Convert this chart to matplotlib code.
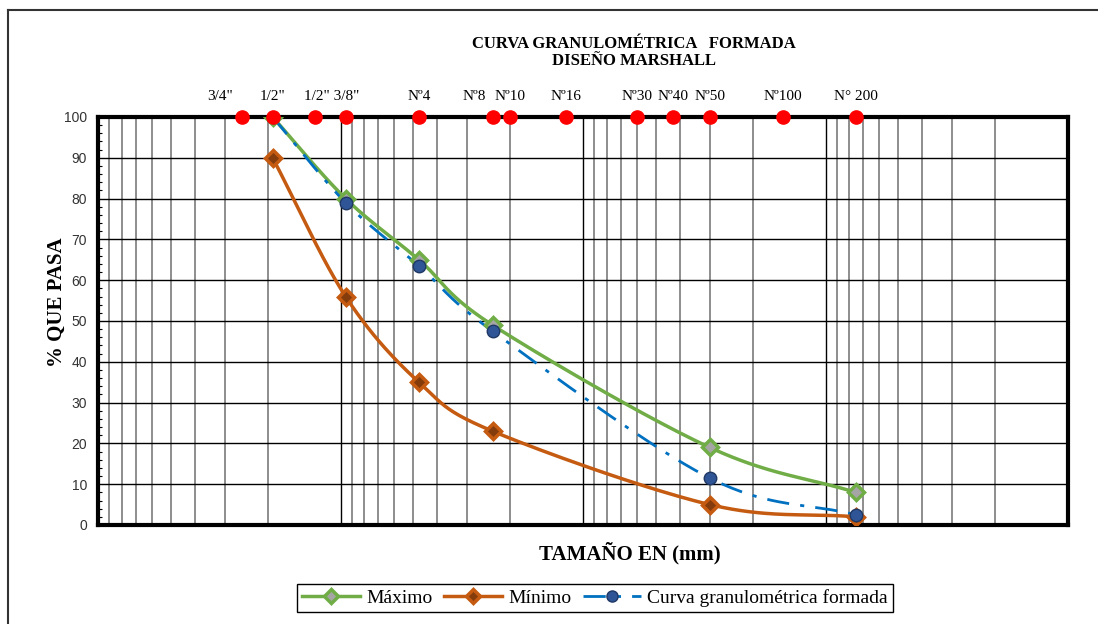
import numpy as np
import matplotlib.pyplot as plt
from matplotlib.lines import Line2D
from matplotlib.ticker import LogLocator, MultipleLocator, NullFormatter

# sieve openings marked as red dots along the top of the chart (mm)
SIEVE_MM = [25.4, 19.05, 12.7, 9.525, 4.75, 2.36, 2.0, 1.18, 0.6, 0.425, 0.3, 0.15, 0.075]
SIEVE_LABELS = ['3/4"', '1/2"', '1/2" 3/8"', "Nº4", "Nº8", "Nº10", "Nº16",
                "Nº30", "Nº40", "Nº50", "Nº100", "N° 200"]
LABEL_MM = [31.5, 19.05, 10.9, 4.75, 2.8, 2.0, 1.18, 0.6, 0.425, 0.3, 0.15, 0.075]

# gradation data
SIZE_MM = [19.05, 9.525, 4.75, 2.36, 0.3, 0.075]
MAXIMO = [100, 80, 65, 49, 19, 8]
MINIMO = [90, 56, 35, 23, 5, 2]
CURVA = [100, 79, 63.5, 47.5, 11.5, 2.5]

GREEN = "#70AD47"
ORANGE = "#C55A11"
BLUE = "#0070C0"
NAVY = "#2F5597"

SERIF = ["Liberation Serif", "DejaVu Serif"]
SANS = ["Liberation Sans", "DejaVu Sans"]


def smooth(xs, ys, n=40):
    # Catmull-Rom in (log x, y), like Excel's smoothed line
    P = np.column_stack([np.log10(xs), np.asarray(ys, float)])
    P = np.vstack([2 * P[0] - P[1], P, 2 * P[-1] - P[-2]])
    t = np.linspace(0, 1, n)[:, None]
    segs = []
    for i in range(1, len(P) - 2):
        p0, p1, p2, p3 = P[i - 1], P[i], P[i + 1], P[i + 2]
        segs.append(0.5 * (2 * p1 + (-p0 + p2) * t
                           + (2 * p0 - 5 * p1 + 4 * p2 - p3) * t ** 2
                           + (-p0 + 3 * p1 - 3 * p2 + p3) * t ** 3))
    out = np.vstack(segs)
    return 10 ** out[:, 0], out[:, 1]


W, H = 1098, 624
fig = plt.figure(figsize=(W / 100, H / 100), dpi=100)
ax = fig.add_axes([98 / W, 1 - 525 / H, (1068 - 98) / W, (525 - 117) / H])

ax.set_xscale("log")
ax.set_xlim(100, 0.01)
ax.set_ylim(0, 100)

ax.xaxis.set_major_locator(LogLocator(base=10))
ax.xaxis.set_minor_locator(LogLocator(base=10, subs=np.arange(2, 10)))
ax.xaxis.set_major_formatter(NullFormatter())
ax.xaxis.set_minor_formatter(NullFormatter())
ax.tick_params(axis="x", which="both", length=0)
ax.grid(True, axis="x", which="major", color="#000000", lw=1)
ax.grid(True, axis="x", which="minor", color="#6f6f6f", lw=1.1)

ax.yaxis.set_major_locator(MultipleLocator(10))
ax.yaxis.set_minor_locator(MultipleLocator(2))
ax.tick_params(axis="y", which="major", length=0, pad=8, labelsize=10)
ax.tick_params(axis="y", which="minor", direction="in", length=3, width=0.8)
for lab in ax.get_yticklabels():
    lab.set_family(SANS)
    lab.set_color("#333333")
ax.grid(True, axis="y", which="major", color="#000000", lw=1)

for sp in ax.spines.values():
    sp.set_linewidth(3)
    sp.set_color("black")
ax.set_axisbelow(True)

# curves
xs, ys = smooth(SIZE_MM, MAXIMO)
ax.plot(xs, ys, color=GREEN, lw=2.5, zorder=3)
ax.plot(SIZE_MM, MAXIMO, ls="none", marker="D", ms=8, mfc="#A5A5A5",
        mec=GREEN, mew=2.5, zorder=4)

xs, ys = smooth(SIZE_MM, MINIMO)
ax.plot(xs, ys, color=ORANGE, lw=2.5, zorder=3)
ax.plot(SIZE_MM, MINIMO, ls="none", marker="D", ms=8, mfc="#843C0C",
        mec=ORANGE, mew=2.5, zorder=4)

xs, ys = smooth(SIZE_MM, CURVA)
ax.plot(xs, ys, color=BLUE, lw=2, ls=(0, (8, 4, 1.5, 4)), zorder=3)
ax.plot(SIZE_MM, CURVA, ls="none", marker="o", ms=9, mfc=NAVY,
        mec="#1F3864", mew=1, zorder=5)

# sieve dots and labels
ax.plot(SIEVE_MM, [100] * len(SIEVE_MM), ls="none", marker="o", ms=9.5,
        color="#FF0000", clip_on=False, zorder=6)
for mm, lab in zip(LABEL_MM, SIEVE_LABELS):
    ax.annotate(lab, xy=(mm, 100), xytext=(0, 20), textcoords="offset pixels",
                ha="center", va="center", fontsize=11, family=SERIF)

# titles
fig.text(634 / W, 1 - 44 / H, "CURVA GRANULOMÉTRICA   FORMADA",
         ha="center", va="center", fontsize=12, fontweight="bold", family=SERIF)
fig.text(634 / W, 1 - 61 / H, "DISEÑO MARSHALL",
         ha="center", va="center", fontsize=12, fontweight="bold", family=SERIF)
fig.text(630 / W, 1 - 553 / H, "TAMAÑO EN (mm)", ha="center", va="center",
         fontsize=15, fontweight="bold", family=SERIF)
fig.text(57 / W, 1 - 302 / H, "% QUE PASA", ha="center", va="center",
         rotation=90, fontsize=15, fontweight="bold", family=SERIF)

handles = [
    Line2D([], [], color=GREEN, lw=2.5, marker="D", ms=7, mfc="#A5A5A5", mec=GREEN, mew=2.5),
    Line2D([], [], color=ORANGE, lw=2.5, marker="D", ms=7, mfc="#843C0C", mec=ORANGE, mew=2.5),
    Line2D([], [], color=BLUE, lw=2, ls=(0, (8, 4, 1.5, 4)), marker="o", ms=8,
           mfc=NAVY, mec="#1F3864"),
]
leg = fig.legend(handles, ["Máximo", "Mínimo", "Curva granulométrica formada"],
                 loc="center", bbox_to_anchor=(595 / W, 1 - 598 / H), ncol=3,
                 frameon=True, fancybox=False, edgecolor="black", framealpha=1,
                 prop={"family": SERIF, "size": 14}, handlelength=3,
                 columnspacing=0.6, handletextpad=0.3, borderpad=0.25)
leg.get_frame().set_linewidth(1)

# outer border (top and left only are visible)
fig.add_artist(Line2D([8 / W, 1], [1 - 10 / H] * 2, transform=fig.transFigure,
                      color="#333333", lw=1.5))
fig.add_artist(Line2D([8 / W] * 2, [0, 1 - 10 / H], transform=fig.transFigure,
                      color="#333333", lw=1.5))

fig.savefig("out.png", dpi=100)
